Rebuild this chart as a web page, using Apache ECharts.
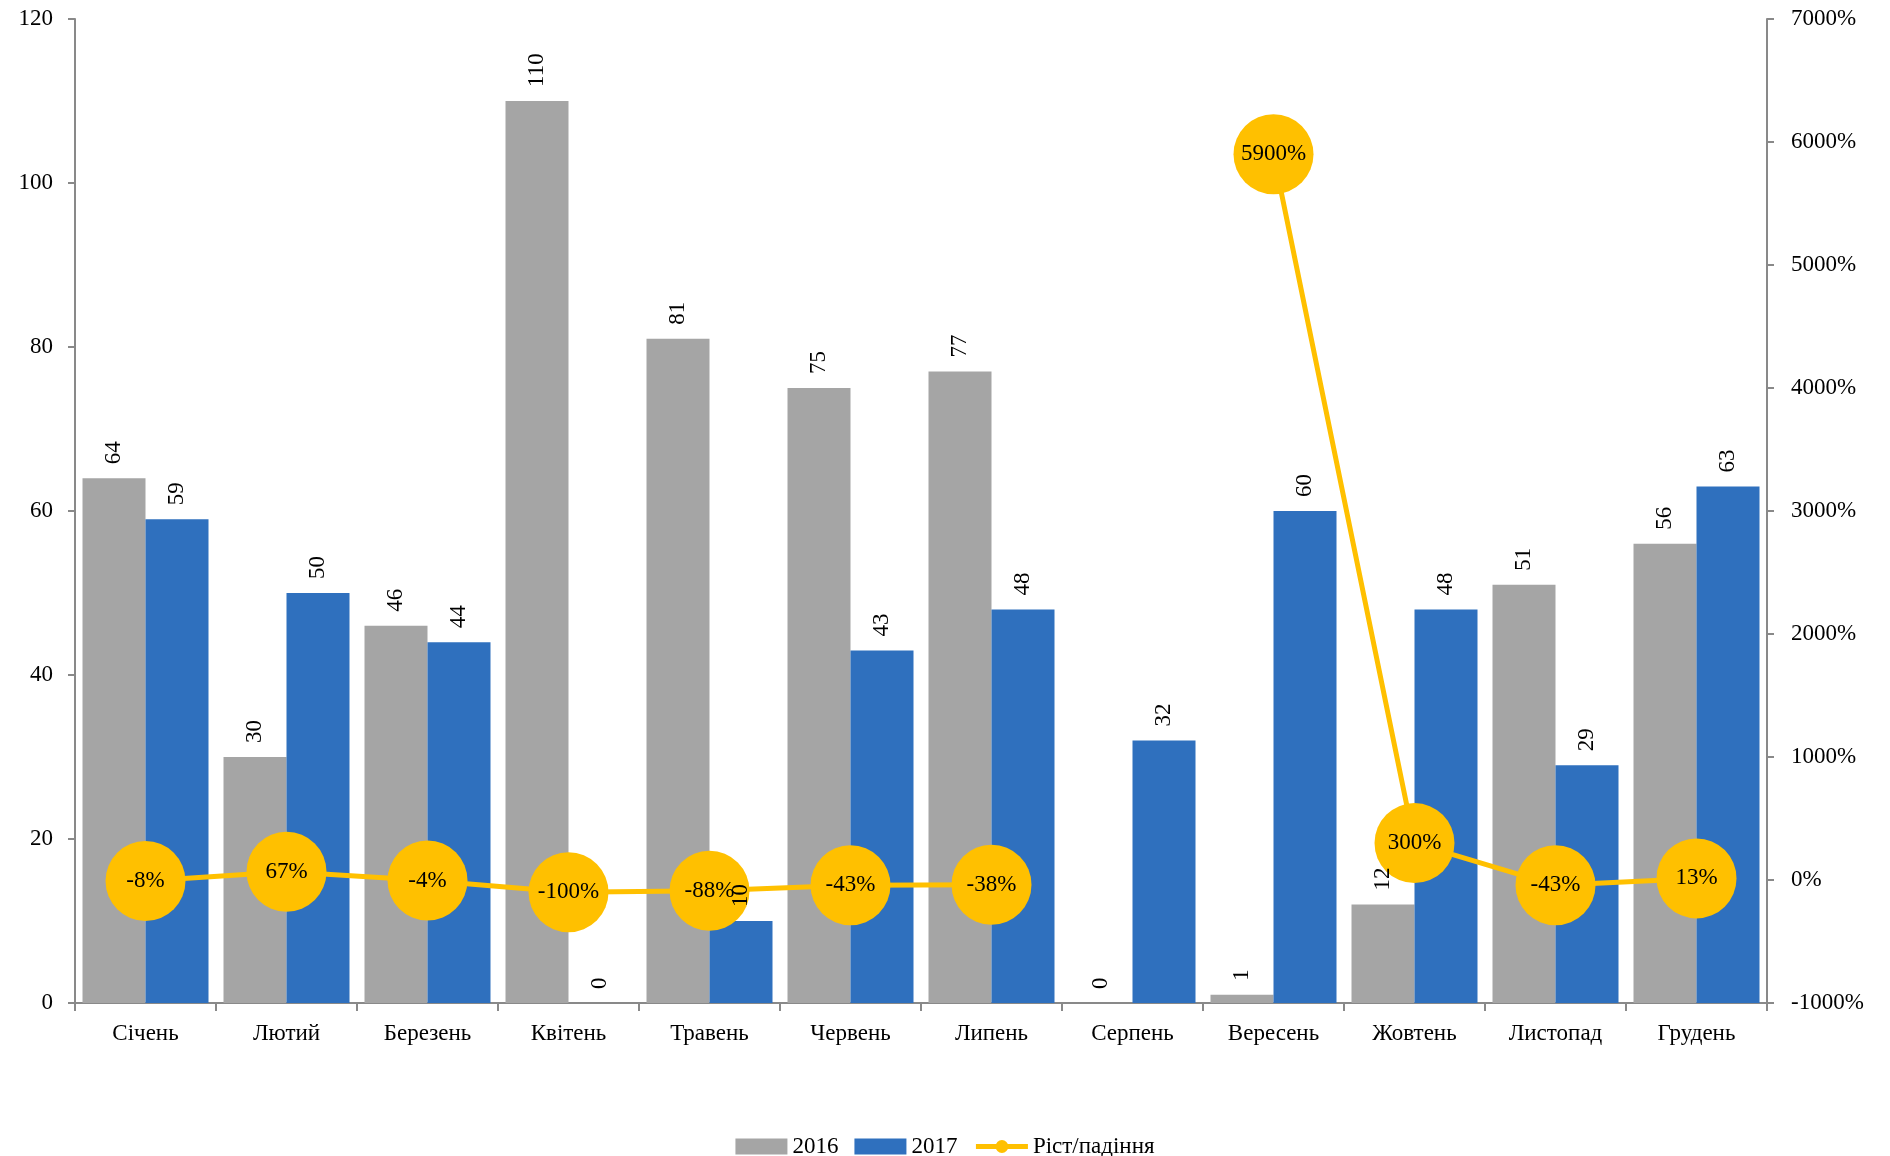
<!DOCTYPE html>
<html><head><meta charset="utf-8">
<script src="https://cdn.jsdelivr.net/npm/echarts@6/dist/echarts.min.js"></script>
<style>html,body{margin:0;padding:0;background:#fff}#c{width:1890px;height:1156px}</style>
</head><body><div id="c"></div>
<script>
const months = ['Січень','Лютий','Березень','Квітень','Травень','Червень','Липень','Серпень','Вересень','Жовтень','Листопад','Грудень'];
const values2016 = [64,30,46,110,81,75,77,0,1,12,51,56];
const values2017 = [59,50,44,0,10,43,48,32,60,48,29,63];
const growth = [-8,67,-4,-100,-88,-43,-38,null,5900,300,-43,13];
const leftTicks = {min:0,max:120,interval:20};
const rightTicks = {min:-1000,max:7000,interval:1000};

const FONT = 'Liberation Serif';
const FS = 23;
const barLabel = {show:true,position:'top',rotate:90,align:'left',verticalAlign:'middle',distance:14,
  fontFamily:FONT,fontSize:FS,color:'#000'};
const chart = echarts.init(document.getElementById('c'));
chart.setOption({
  animation:false,
  textStyle:{fontFamily:FONT},
  grid:{left:75,right:123,top:19,bottom:153},
  legend:{top:1130,left:'center',itemWidth:52,itemHeight:16,itemGap:16,
    textStyle:{fontFamily:FONT,fontSize:FS,color:'#000'},
    data:[{name:'2016',icon:'rect',itemStyle:{color:'#A5A5A5'}},
          {name:'2017',icon:'rect',itemStyle:{color:'#2F70BE'}},
          {name:'Ріст/падіння',lineStyle:{width:5,color:'#FFC000'}}]},
  xAxis:[{type:'category',data:months,
    axisLine:{lineStyle:{color:'#898989',width:2}},
    axisTick:{show:true,length:8,lineStyle:{color:'#898989',width:2}},
    axisLabel:{fontFamily:FONT,fontSize:FS,color:'#000',margin:19}},
    {type:'category',data:months,show:false,position:'bottom'}],
  yAxis:[{type:'value',min:leftTicks.min,max:leftTicks.max,interval:leftTicks.interval,
      splitLine:{show:false},
      axisLine:{show:true,lineStyle:{color:'#898989',width:2}},
      axisTick:{show:true,length:7,lineStyle:{color:'#898989',width:2}},
      axisLabel:{fontFamily:FONT,fontSize:FS,color:'#000',margin:22}},
    {type:'value',min:rightTicks.min,max:rightTicks.max,interval:rightTicks.interval,
      splitLine:{show:false},
      axisLine:{show:true,lineStyle:{color:'#898989',width:2}},
      axisTick:{show:true,length:7,lineStyle:{color:'#898989',width:2}},
      axisLabel:{fontFamily:FONT,fontSize:FS,color:'#000',margin:24,formatter:function(v){return v+'%';}}}],
  series:[
    {name:'2016',type:'bar',data:values2016,barWidth:63,barGap:'0%',
      itemStyle:{color:'#A5A5A5'}},
    {name:'2017',type:'bar',data:values2017,barWidth:63,barGap:'0%',
      itemStyle:{color:'#2F70BE'}},
    {name:'Ріст/падіння',type:'line',yAxisIndex:1,data:growth,connectNulls:false,
      symbol:'circle',symbolSize:80,
      lineStyle:{color:'#FFC000',width:5},
      itemStyle:{color:'#FFC000'},
      label:{show:true,position:'inside',formatter:'{c}%',fontFamily:FONT,fontSize:FS,color:'#000'},
      z:5},
    {name:'lbl2016',type:'bar',xAxisIndex:1,data:values2016,barWidth:63,barGap:'0%',
      itemStyle:{color:'rgba(0,0,0,0)'},label:barLabel,z:10,silent:true},
    {name:'lbl2017',type:'bar',xAxisIndex:1,data:values2017,barWidth:63,barGap:'0%',
      itemStyle:{color:'rgba(0,0,0,0)'},label:barLabel,z:10,silent:true}
  ]
});
</script></body></html>
